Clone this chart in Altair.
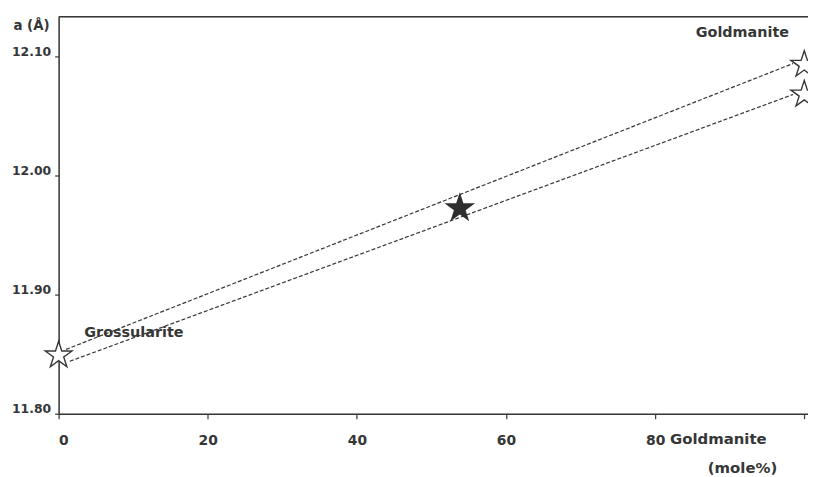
import altair as alt
import pandas as pd

# ---- data ----
x_ticks = [0, 20, 40, 60, 80, 100]
y_ticks = [11.80, 11.90, 12.00, 12.10]

# end-member stars (open)
end_names = ["Grossularite", "Goldmanite", "Goldmanite"]
end_x = [0, 100, 100]
end_a = [11.849, 12.093, 12.068]

# intermediate composition (filled star)
mid_x = [53.8]
mid_a = [11.9725]

# dashed tie lines
line_id = ["upper", "upper", "lower", "lower"]
line_x = [1.0, 98.5, 1.5, 98.5]
line_a = [11.854, 12.094, 11.844, 12.068]

# in-plot labels
label_text = ["Goldmanite", "Grossularite"]
label_x = [91.7, 10.1]
label_a = [12.12, 11.8675]

FONT = "DejaVu Sans"
INK = "#363636"
STAR = ("M0,-1L0.2245,-0.309L0.9511,-0.309L0.3633,0.118L0.5878,0.809L0,0.382"
        "L-0.5878,0.809L-0.3633,0.118L-0.9511,-0.309L-0.2245,-0.309Z")

W, H = 755, 400

xs = alt.Scale(domain=[0, 100.5], nice=False, zero=False)
ys = alt.Scale(domain=[11.80, 12.1333], nice=False, zero=False)

x_axis = alt.Axis(values=x_ticks, format="d", title=None, grid=False,
                  labelExpr="datum.value == 100 ? '' : datum.label",
                  domainColor=INK, domainWidth=1.5, tickColor=INK, tickWidth=1.2,
                  tickSize=5, labelPadding=22, labelBaseline="middle",
                  labelFont=FONT, labelFontSize=14,
                  labelFontWeight="bold", labelColor=INK)
y_axis = alt.Axis(values=y_ticks, format=".2f", title=None, grid=False,
                  domainColor=INK, domainWidth=1.5, tickColor=INK, tickWidth=1.2,
                  tickSize=4, labelPadding=4, labelOffset=-5, labelFont=FONT,
                  labelFontSize=12.5, labelFontWeight="bold", labelColor=INK)

lines_df = pd.DataFrame({"id": line_id, "x": line_x, "a": line_a})
end_df = pd.DataFrame({"name": end_names, "x": end_x, "a": end_a})
mid_df = pd.DataFrame({"x": mid_x, "a": mid_a})
lab_df = pd.DataFrame({"t": label_text, "x": label_x, "a": label_a})

lines = alt.Chart(lines_df).mark_line(
    color=INK, strokeWidth=1.2, strokeDash=[4, 2]
).encode(
    x=alt.X("x:Q", scale=xs, axis=x_axis),
    y=alt.Y("a:Q", scale=ys, axis=y_axis),
    detail="id:N",
)

open_stars = alt.Chart(end_df).mark_point(
    shape=STAR, size=800, filled=True, fill="white", stroke=INK, strokeWidth=1.4,
    opacity=1, clip=False
).encode(x=alt.X("x:Q", scale=xs), y=alt.Y("a:Q", scale=ys))

filled_star = alt.Chart(mid_df).mark_point(
    shape=STAR, size=1050, filled=True, color="#2e2e2e", opacity=1
).encode(x=alt.X("x:Q", scale=xs), y=alt.Y("a:Q", scale=ys))

labels = alt.Chart(lab_df).mark_text(
    font=FONT, fontSize=14.5, fontWeight="bold", color=INK, baseline="middle"
).encode(x=alt.X("x:Q", scale=xs), y=alt.Y("a:Q", scale=ys), text="t:N")

top_rule = alt.Chart(mid_df).mark_rule(color=INK, strokeWidth=1.5).encode(
    x=alt.value(0), x2=alt.value(W), y=alt.value(0)
)

ytitle = alt.Chart(mid_df).mark_text(
    text="a (Å)", font=FONT, fontSize=13.5, fontWeight="bold", color=INK,
    align="right", baseline="middle"
).encode(x=alt.value(-9), y=alt.value(9))

xname = alt.Chart(mid_df).mark_text(
    text="Goldmanite", font=FONT, fontSize=15, fontWeight="bold", color=INK,
    align="left", baseline="middle"
).encode(x=alt.value(616), y=alt.value(426))

xunit = alt.Chart(mid_df).mark_text(
    text="(mole%)", font=FONT, fontSize=15, fontWeight="bold", color=INK,
    align="center", baseline="middle"
).encode(x=alt.value(689), y=alt.value(455))

chart = alt.layer(
    lines, open_stars, filled_star, labels, top_rule, ytitle, xname, xunit
).properties(
    width=W, height=H,
    padding={"left": 51, "top": 7, "right": 0, "bottom": 62},
    autosize=alt.AutoSizeParams(type="none"),
).configure_view(stroke=None).configure(background="white")

chart.save("out.html", embed_options={"renderer": "svg", "actions": False})
